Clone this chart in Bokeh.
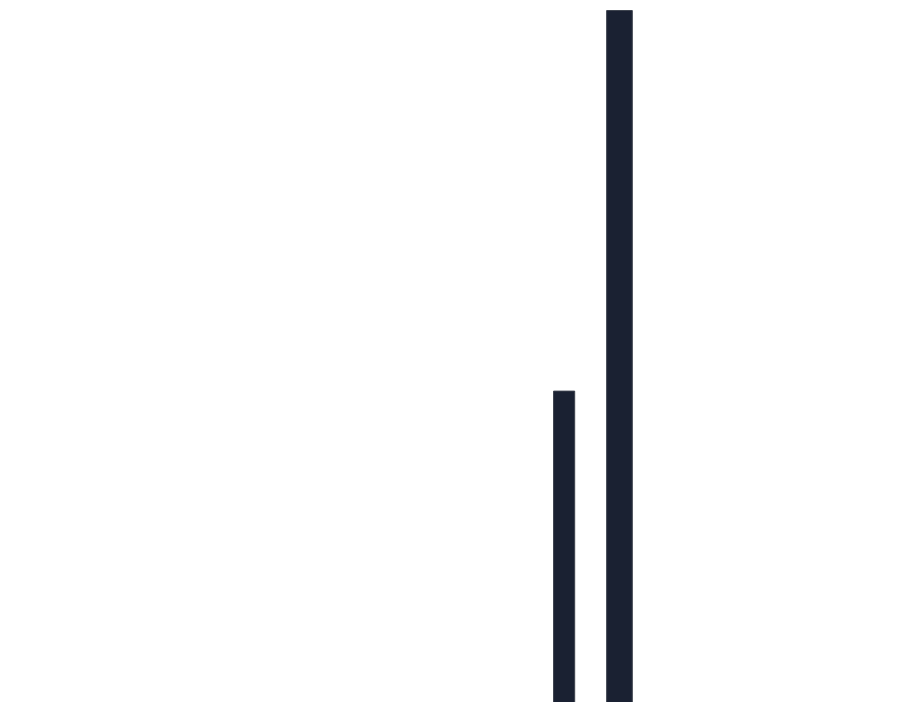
from bokeh.plotting import figure
from bokeh.models import Range1d
from bokeh.embed import file_html
from bokeh.resources import INLINE

# histogram-like bins (arbitrary units)
bin_left = [61.45, 67.35]
bin_right = [63.8, 70.2]
counts = [45.0, 100.0]

p = figure(width=900, height=702, output_backend="svg", toolbar_location=None,
           x_range=Range1d(0, 100), y_range=Range1d(0, 101.45),
           min_border=0, min_border_left=0, min_border_right=0,
           min_border_top=0, min_border_bottom=0)
p.axis.visible = False
p.grid.visible = False
p.outline_line_color = None
p.background_fill_color = "white"
p.border_fill_color = "white"

p.quad(left=bin_left, right=bin_right, bottom=0, top=counts,
       fill_color="#1a2132", line_color="#3c424d", line_width=1)

open("out.html", "w").write(file_html(p, INLINE))
